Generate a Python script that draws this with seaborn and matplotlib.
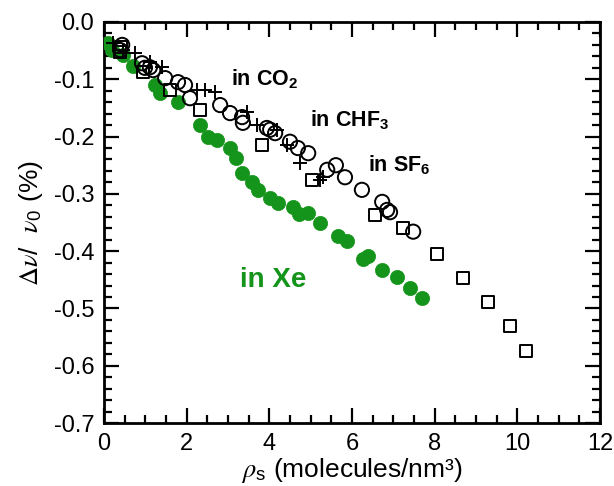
import matplotlib
matplotlib.use("Agg")
import matplotlib.pyplot as plt
import seaborn as sns
from matplotlib.ticker import MultipleLocator

sns.set_theme(style="ticks")
plt.rcParams['font.family'] = ['Liberation Sans', 'DejaVu Sans']
plt.rcParams['mathtext.fontset'] = 'stix'
plt.rcParams['text.color'] = 'black'
plt.rcParams['axes.labelcolor'] = 'black'

# ── data ─────────────────────────────────────────────────────────────────────
xe_x = [0.10, 0.19, 0.46, 0.70, 1.23, 1.35, 1.79, 2.32, 2.52, 2.73, 3.05, 3.19,
        3.34, 3.58, 3.73, 4.02, 4.21, 4.57, 4.72, 4.94, 5.23, 5.66, 5.88, 6.27,
        6.39, 6.73, 7.09, 7.40, 7.69]
xe_y = [-0.037, -0.049, -0.058, -0.077, -0.110, -0.124, -0.140, -0.180, -0.201,
        -0.206, -0.220, -0.237, -0.264, -0.279, -0.293, -0.307, -0.316, -0.323,
        -0.335, -0.333, -0.351, -0.373, -0.382, -0.414, -0.408, -0.433, -0.445,
        -0.464, -0.482]

sq_x = [0.39, 0.41, 0.94, 1.60, 2.32, 3.82, 5.03, 6.56, 7.23, 8.06, 8.69, 9.29,
        9.82, 10.21]
sq_y = [-0.052, -0.044, -0.087, -0.119, -0.154, -0.215, -0.276, -0.337, -0.360,
        -0.405, -0.447, -0.489, -0.531, -0.574]

circ_x = [0.39, 0.44, 0.92, 0.99, 1.11, 1.19, 1.48, 1.79, 1.96, 2.08, 2.81, 3.05,
          3.34, 3.36, 3.94, 4.02, 4.14, 4.50, 4.69, 4.94, 5.40, 5.61, 5.83, 6.24,
          6.73, 6.85, 6.92, 7.48]
circ_y = [-0.049, -0.040, -0.072, -0.080, -0.079, -0.084, -0.098, -0.105, -0.110,
          -0.133, -0.145, -0.159, -0.166, -0.176, -0.185, -0.188, -0.194, -0.209,
          -0.220, -0.229, -0.258, -0.250, -0.271, -0.293, -0.314, -0.328, -0.332,
          -0.366]

plus_x = [0.22, 0.46, 0.75, 1.11, 1.40, 2.25, 2.44, 2.69, 3.46, 3.70, 4.19, 4.43,
          4.74, 5.23, 5.30]
plus_y = [-0.037, -0.049, -0.054, -0.070, -0.079, -0.119, -0.119, -0.122, -0.157,
          -0.180, -0.188, -0.215, -0.246, -0.276, -0.271]

GREEN = "#14941a"

fig, ax = plt.subplots(figsize=(6.14, 4.86), dpi=100)
fig.subplots_adjust(left=104/614, right=600/614, top=1-22/486, bottom=1-423/486)

sns.scatterplot(x=xe_x, y=xe_y, ax=ax, marker="o", s=105, color=GREEN,
                edgecolor=GREEN, linewidth=0.5, zorder=3)
sns.scatterplot(x=sq_x, y=sq_y, ax=ax, marker="s", s=80, facecolor="none",
                edgecolor="black", linewidth=1.4, zorder=3)
sns.scatterplot(x=circ_x, y=circ_y, ax=ax, marker="o", s=105, facecolor="none",
                edgecolor="black", linewidth=1.4, zorder=3)
sns.scatterplot(x=plus_x, y=plus_y, ax=ax, marker="+", s=100, color="black",
                linewidth=1.4, zorder=3)

lab = dict(fontweight='bold', fontsize=15.5, va='center', ha='left')
ax.text(3.08, -0.100, r"in CO$\mathregular{_2}$", **lab)
ax.text(4.98, -0.171, r"in CHF$\mathregular{_3}$", **lab)
ax.text(6.38, -0.250, r"in SF$\mathregular{_6}$", **lab)
ax.text(3.28, -0.450, "in Xe", color=GREEN, **{**lab, 'fontsize': 20})

ax.set_xlim(0, 12)
ax.set_ylim(-0.7, 0.0)
ax.xaxis.set_major_locator(MultipleLocator(2))
ax.xaxis.set_minor_locator(MultipleLocator(0.5))
ax.yaxis.set_major_locator(MultipleLocator(0.1))
ax.yaxis.set_minor_locator(MultipleLocator(0.02))
ax.yaxis.set_major_formatter(lambda v, pos: "0.0" if abs(v) < 1e-9 else f"{v:.1f}")

ax.tick_params(which='both', direction='in', top=True, right=True,
               labelsize=17, width=1.6, colors='black', pad=7)
ax.tick_params(which='major', length=11)
ax.tick_params(which='minor', length=6)
for sp in ax.spines.values():
    sp.set_linewidth(2)
    sp.set_color('black')

ax.set_xlabel(r"$\rho_\mathregular{s}$ (molecules/nm³)", fontsize=19, labelpad=1)
ax.set_ylabel(r"$\Delta\nu$/  $\nu_\mathregular{0}$ (%)", fontsize=19, labelpad=6)

fig.savefig("out.png", dpi=100)
